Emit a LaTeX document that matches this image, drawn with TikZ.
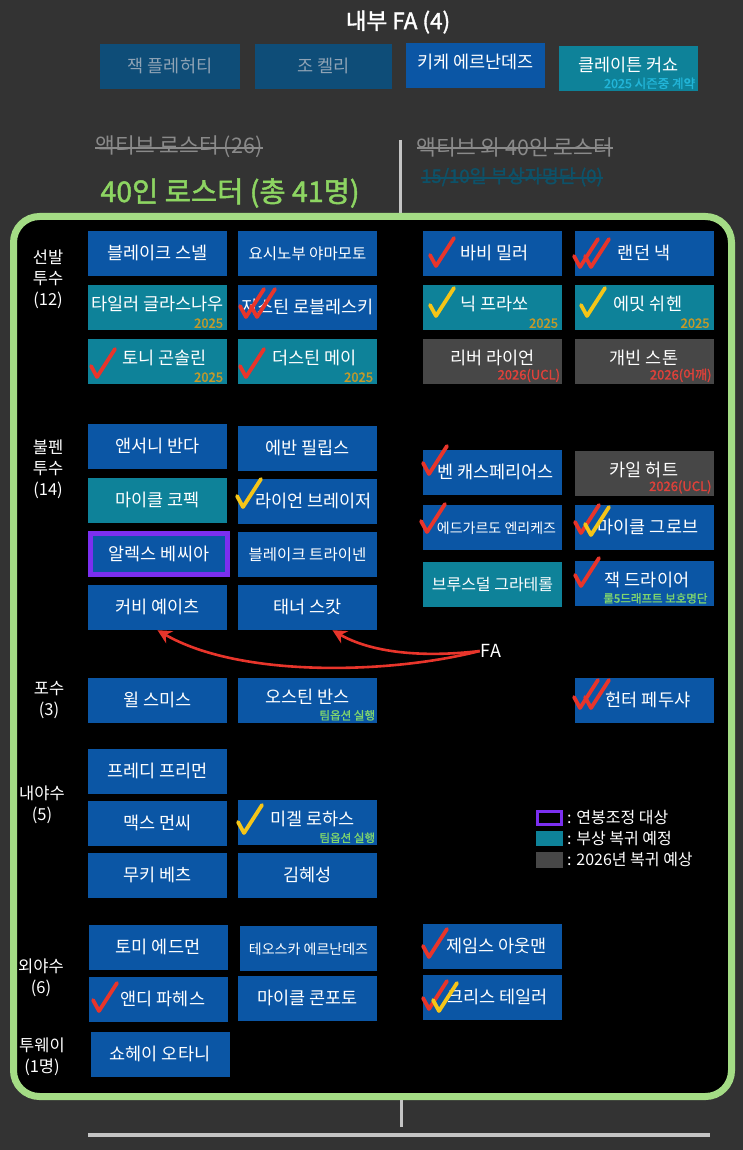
\documentclass[tikz,border=0pt]{standalone}
\usepackage{fontspec}
\setmainfont{Noto Sans CJK KR}
\newfontfamily\kb[FakeBold=1.6]{Noto Sans CJK KR}
\usetikzlibrary{calc,arrows.meta}
\definecolor{bgc}{HTML}{333333}
\definecolor{bluebox}{HTML}{0B56A5}
\definecolor{tealbox}{HTML}{0E8299}
\definecolor{graybox}{HTML}{474747}
\definecolor{greenb}{HTML}{A4DC85}
\definecolor{purp}{HTML}{7B2FF0}
\definecolor{chkred}{HTML}{E8352B}
\definecolor{chkyel}{HTML}{F5C518}
\definecolor{gold}{HTML}{C49A2A}
\definecolor{subgreen}{HTML}{7FD46E}
\definecolor{dimblue}{HTML}{0E4D78}
\definecolor{dimtext}{HTML}{8FA3B5}
\definecolor{striketext}{HTML}{8A8A8A}
\definecolor{darkteal}{HTML}{0D5269}
\definecolor{titlegreen}{HTML}{8DD562}
\definecolor{linegray}{HTML}{C4C4C4}
\definecolor{subcyan}{HTML}{22B5D8}
\definecolor{subred}{HTML}{E0413A}
\tikzset{
  x=1pt,y=-1pt,
  box/.style={rectangle, minimum width=139pt, minimum height=45pt, inner sep=0pt,
    text=white, font=\fontsize{17.5}{17.5}\selectfont, text height=15pt, text depth=3pt},
  bl/.style={box, fill=bluebox},
  tl/.style={box, fill=tealbox},
  gr/.style={box, fill=graybox},
  up/.style={text depth=9pt},
  sm/.style={font=\fontsize{15.5}{15.5}\selectfont},
  xs/.style={font=\fontsize{14}{14}\selectfont},
  sub/.style={anchor=south east, inner sep=0pt, font=\kb\fontsize{13}{13}\selectfont},
  subs/.style={anchor=south east, inner sep=0pt, font=\kb\fontsize{11.5}{11.5}\selectfont},
  cat/.style={align=center, text=white, inner sep=0pt, font=\fontsize{16.5}{21}\selectfont},
  rchk/.pic={\draw[chkred, line width=3.8pt, line cap=round, line join=round] (0,0) -- (6,11) -- (24,-17);},
  ychk/.pic={\draw[chkyel, line width=3.8pt, line cap=round, line join=round] (0,0) -- (6,11) -- (24,-17);},
  fa/.style={draw=chkred, line width=2.6pt, -{Stealth[length=14pt,width=14pt]}},
}
\begin{document}
\begin{tikzpicture}
\fill[bgc] (0,0) rectangle (743,1150);
\useasboundingbox (0,0) rectangle (743,1150);

% top section
\node[text=white, font=\kb\fontsize{22.5}{22.5}\selectfont] (title) at (398,22) {내부 FA (4)};
\node[box, fill=dimblue, minimum width=140pt, text=dimtext] (jack) at (170,66.5) {잭 플레허티};
\node[box, fill=dimblue, minimum width=137pt, text=dimtext] (joe) at (323.5,66.5) {조 켈리};
\node[bl, up] (kike) at (475.5,65.5) {키케 에르난데즈};
\node[tl, up] (kersh) at (628.5,68.5) {클레이튼 커쇼};
\node[subs, text=subcyan, font=\kb\fontsize{12.5}{12.5}\selectfont] (kershs) at ([xshift=-3pt,yshift=2pt]kersh.south east) {2025 시즌중 계약};

\draw[linegray, line width=3pt] (400,140) coordinate (vtop) -- (400,213) coordinate (vbot);
\node[text=striketext, font=\fontsize{21.5}{21.5}\selectfont, inner sep=0pt] (act) at (179,147) {액티브 로스터 (26)};
\draw[striketext, line width=1.5pt] ([yshift=-1pt]act.west) -- ([yshift=-1pt]act.east);
\node[text=striketext, font=\fontsize{21.5}{21.5}\selectfont, inner sep=0pt] (act2) at (515,147) {액티브 외 40인 로스터};
\draw[striketext, line width=1.5pt] ([yshift=-1pt]act2.west) -- ([yshift=-1pt]act2.east);
\node[text=darkteal, font=\kb\fontsize{18.5}{18.5}\selectfont, inner sep=0pt] (il) at (512,177) {15/10일 부상자명단 (0)};
\draw[darkteal, line width=1.5pt] ([yshift=-1pt]il.west) -- ([yshift=-1pt]il.east);
\node[text=titlegreen, font=\kb\fontsize{28.5}{28.5}\selectfont, inner sep=0pt] (forty) at (230,193) {40인 로스터 (총 41명)};

% main frame
\draw[greenb, line width=7pt, fill=black, rounded corners=26pt] (13.5,216.5) rectangle (731.5,1096.5);

% bottom lines
\draw[linegray, line width=3pt] (401,1100) coordinate (b1) -- (401,1127) coordinate (b2);
\draw[linegray, line width=4pt] (88,1135) coordinate (h1) -- (710,1135) coordinate (h2);

% categories
\node[cat] (cat1) at (48,279) {선발\\투수\\(12)};
\node[cat] (cat2) at (48,469) {불펜\\투수\\(14)};
\node[cat] (cat3) at (49,700) {포수\\(3)};
\node[cat] (cat4) at (42,805) {내야수\\(5)};
\node[cat] (cat5) at (41,978) {외야수\\(6)};
\node[cat] (cat6) at (42,1057) {투웨이\\(1명)};

% starting pitchers
\node[bl] (snell) at (157.5,253.5) {블레이크 스넬};
\node[bl, sm] (yama) at (307.5,253.5) {요시노부 야마모토};
\node[tl, up] (glas) at (157.5,307.5) {타일러 글라스나우};
\node[sub, text=gold] (glass) at ([xshift=-4pt,yshift=2pt]glas.south east) {2025};
\node[bl] (robl) at (307.5,307.5) {저스틴 로블레스키};
\node[tl, up] (gons) at (157.5,361.5) {\hspace{14pt}토니 곤솔린};
\node[sub, text=gold] (gonss) at ([xshift=-4pt,yshift=2pt]gons.south east) {2025};
\node[tl, up] (may) at (307.5,361.5) {\hspace{14pt}더스틴 메이};
\node[sub, text=gold] (mays) at ([xshift=-4pt,yshift=2pt]may.south east) {2025};

\node[bl] (miller) at (492.5,253.5) {\hspace{4pt}바비 밀러};
\node[bl] (knack) at (644,253.5) {랜던 낵};
\node[tl, up] (frasso) at (492.5,307.5) {\hspace{4pt}닉 프라쏘};
\node[sub, text=gold] (frassos) at ([xshift=-4pt,yshift=2pt]frasso.south east) {2025};
\node[tl, up] (sheehan) at (644,307.5) {\hspace{8pt}에밋 쉬헨};
\node[sub, text=gold] (sheehans) at ([xshift=-4pt,yshift=2pt]sheehan.south east) {2025};
\node[gr, up] (ryan) at (492.5,361.5) {리버 라이언};
\node[sub, text=subred] (ryans) at ([xshift=-2pt,yshift=2pt]ryan.south east) {2026(UCL)};
\node[gr, up] (stone) at (644,361.5) {개빈 스톤};
\node[sub, text=subred] (stones) at ([xshift=-2pt,yshift=2pt]stone.south east) {2026(어깨)};

% bullpen
\node[bl] (vanda) at (157.5,446) {앤서니 반다};
\node[bl] (phil) at (307.5,448.5) {에반 필립스};
\node[tl] (kopech) at (157.5,500) {마이클 코펙};
\node[bl] (brasier) at (307.5,501) {\hspace{12pt}라이언 브레이저};
\node[box, fill=bluebox, draw=purp, line width=5pt, minimum width=137pt, minimum height=41pt] (vesia) at (159,554) {알렉스 베씨아};
\node[bl, sm] (treinen) at (307.5,554) {블레이크 트라이넨};
\node[bl] (yates) at (157.5,607.5) {커비 예이츠};
\node[bl] (scott) at (307.5,607.5) {태너 스캇};

\node[bl] (casp) at (492.5,472) {\hspace{6pt}벤 캐스페리어스};
\node[gr, up] (hurt) at (644,473) {카일 허트};
\node[sub, text=subred] (hurts) at ([xshift=-2pt,yshift=2pt]hurt.south east) {2026(UCL)};
\node[bl, xs] (henr) at (492.5,527.5) {\hspace{8pt}에드가르도 엔리케즈};
\node[bl] (grove) at (644,527.5) {\hspace{8pt}마이클 그로브};
\node[tl, font=\fontsize{16}{16}\selectfont] (grat) at (492.5,584.5) {브루스덜 그라테롤};
\node[bl, up] (dreyer) at (644,583) {\hspace{6pt}잭 드라이어};
\node[subs, text=subgreen] (dreyers) at ([xshift=-6pt,yshift=2pt]dreyer.south east) {룰5드래프트 보호명단};

% FA arrows
\node[text=white, font=\fontsize{18}{18}\selectfont, inner sep=1pt] (fa) at (491,651) {FA};
\draw[fa] (fa.west) .. controls (390,674) and (240,678) .. (yates.south);
\draw[fa] (fa.west) .. controls (420,658) and (370,652) .. ([xshift=25pt]scott.south);

% catchers
\node[bl] (smith) at (157.5,700) {윌 스미스};
\node[bl, up] (barnes) at (307.5,700) {오스틴 반스};
\node[subs, text=subgreen] (barness) at ([xshift=-2pt,yshift=2pt]barnes.south east) {팀옵션 실행};
\node[bl] (rushing) at (644,700) {\hspace{8pt}헌터 페두샤};

% infield
\node[bl] (freeman) at (157.5,771.5) {프레디 프리먼};
\node[bl] (muncy) at (157.5,823.5) {맥스 먼씨};
\node[bl, up] (rojas) at (307.5,822.5) {\hspace{10pt}미겔 로하스};
\node[subs, text=subgreen] (rojass) at ([xshift=-2pt,yshift=2pt]rojas.south east) {팀옵션 실행};
\node[bl] (betts) at (157.5,875.5) {무키 베츠};
\node[bl] (kim) at (307.5,875.5) {김혜성};

% outfield
\node[bl] (edman) at (158,947.5) {토미 에드먼};
\node[bl, xs, minimum width=137pt] (teo) at (308.5,948) {테오스카 에르난데즈};
\node[bl] (outman) at (492.5,946.5) {\hspace{8pt}제임스 아웃맨};
\node[bl] (pages) at (158,999.5) {\hspace{10pt}앤디 파헤스};
\node[bl] (conforto) at (307.5,998.5) {마이클 콘포토};
\node[bl] (taylor) at (492.5,997.5) {\hspace{10pt}크리스 테일러};
\node[bl] (ohtani) at (160,1054.5) {쇼헤이 오타니};

% legend
\node[rectangle, draw=purp, fill=black, line width=3pt, minimum width=24pt, minimum height=13pt, inner sep=0pt] (lg1) at (549.5,818) {};
\node[rectangle, fill=tealbox, minimum width=27pt, minimum height=15pt, inner sep=0pt] (lg2) at (549.5,838.5) {};
\node[rectangle, fill=graybox, minimum width=27pt, minimum height=16pt, inner sep=0pt] (lg3) at (549.5,860) {};
\node[anchor=west, text=white, font=\fontsize{16}{16}\selectfont, inner sep=0pt] (lt1) at (567,817) {: 연봉조정 대상};
\node[anchor=west, text=white, font=\fontsize{16}{16}\selectfont, inner sep=0pt] (lt2) at (567,838) {: 부상 복귀 예정};
\node[anchor=west, text=white, font=\fontsize{16}{16}\selectfont, inner sep=0pt] (lt3) at (567,859) {: 2026년 복귀 예상};

% check marks
\pic at (240,306) {rchk};
\pic at (251,306) {rchk};
\pic at (91,366) {rchk};
\pic at (240,366) {rchk};
\pic at (430,255) {rchk};
\pic at (574,256) {rchk};
\pic at (585,256) {rchk};
\pic at (430,305) {ychk};
\pic at (581,305) {ychk};
\pic at (237,496) {ychk};
\pic at (423,463) {rchk};
\pic at (421,521) {rchk};
\pic at (575,522) {rchk};
\pic at (585,524) {ychk};
\pic at (575,575) {rchk};
\pic at (574,697) {rchk};
\pic at (585,697) {rchk};
\pic at (238,822) {ychk};
\pic at (423,946) {rchk};
\pic at (93,1000) {rchk};
\pic at (423,998) {rchk};
\pic at (433,1000) {ychk};
\end{tikzpicture}
\end{document}
